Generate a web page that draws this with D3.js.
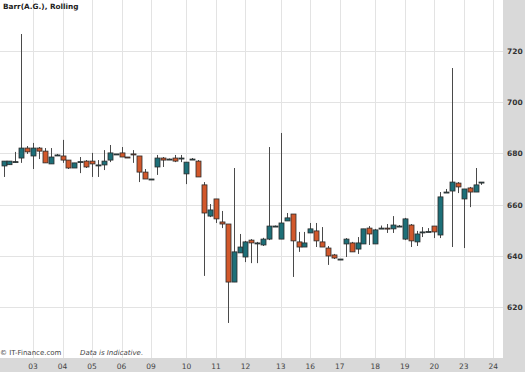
<!DOCTYPE html>
<html>
<head>
<meta charset="utf-8">
<script src="https://cdnjs.cloudflare.com/ajax/libs/d3/7.8.5/d3.min.js"></script>
<style>
  body { margin: 0; background: #fff; }
  svg { display: block; font-family: "DejaVu Sans", Verdana, sans-serif; }
</style>
</head>
<body>
<div id="chart"></div>
<script>
const title = "Barr(A.G.), Rolling";

// day labels and the candle index each one sits on
const dayLabels = ["03", "04", "05", "06", "09", "10", "11", "12", "13", "16", "17", "18", "19", "20", "23", "24"];
const dayIndex = [5, 10, 15, 20, 25, 31, 36, 41, 47, 52, 57, 63, 68, 73, 78, 83];

const yTicks = [620, 640, 660, 680, 700, 720];

const opens = [675.1, 675.6, 676.6, 678.2, 682.1, 679.0, 682.1, 680.9, 675.9, 679.2,
  679.0, 677.4, 674.3, 676.6, 677.0, 677.0, 675.5, 675.5, 677.4, 679.8,
  680.2, 678.6, 679.8, 679.0, 672.7, 670.0, 674.7, 678.2, 677.8, 678.2,
  678.2, 672.0, 677.8, 677.0, 667.7, 655.5, 662.2, 653.2, 652.4, 629.7,
  641.1, 639.5, 646.1, 645.0, 644.2, 646.5, 651.6, 646.5, 653.6, 656.3,
  645.4, 643.4, 648.9, 649.7, 645.4, 643.0, 640.3, 638.7, 644.6, 645.0,
  642.6, 644.6, 650.8, 644.6, 650.8, 650.8, 650.5, 651.6, 646.5, 652.0,
  645.4, 649.3, 649.3, 651.6, 648.1, 664.9, 665.3, 668.4, 662.2, 666.5,
  664.9, 668.8];

const closes = [677.0, 677.0, 676.8, 682.1, 680.6, 682.1, 680.9, 676.3, 678.6, 679.4,
  677.4, 674.3, 676.3, 676.8, 674.7, 675.9, 675.5, 677.0, 680.2, 679.8,
  678.6, 678.4, 679.6, 672.7, 670.0, 670.0, 678.2, 677.4, 677.8, 677.0,
  678.2, 676.6, 677.8, 670.8, 656.7, 657.9, 654.4, 652.4, 629.7, 641.5,
  643.4, 645.4, 645.0, 645.0, 646.5, 651.6, 651.6, 652.8, 654.8, 645.8,
  643.4, 645.0, 650.5, 645.8, 643.4, 639.9, 639.1, 638.7, 646.5, 641.5,
  645.0, 650.5, 648.5, 650.1, 650.8, 650.5, 652.0, 651.6, 654.4, 645.8,
  648.5, 649.3, 649.5, 649.3, 663.0, 664.9, 668.8, 666.9, 666.1, 664.9,
  667.7, 668.8];

const highs = [677.0, 677.0, 680.6, 726.7, 682.9, 684.1, 682.5, 682.1, 682.1, 679.8,
  685.3, 677.4, 676.3, 678.6, 677.4, 680.2, 677.4, 681.3, 683.3, 679.8,
  682.5, 678.6, 681.3, 679.0, 673.9, 670.0, 679.4, 678.6, 678.0, 679.4,
  679.4, 676.6, 678.2, 677.4, 668.8, 660.2, 662.2, 657.5, 652.4, 674.3,
  648.5, 645.8, 646.5, 645.4, 647.0, 682.5, 651.8, 688.0, 656.7, 656.3,
  649.3, 649.3, 652.8, 652.8, 651.2, 643.8, 640.7, 638.7, 646.9, 645.4,
  647.3, 650.5, 651.6, 650.5, 651.8, 652.4, 655.5, 652.0, 654.8, 652.4,
  649.7, 651.2, 650.8, 651.6, 664.9, 666.1, 713.4, 668.8, 666.1, 666.9,
  674.3, 668.8];

const lows = [670.8, 675.6, 676.3, 676.3, 679.8, 673.9, 677.8, 676.3, 675.9, 679.0,
  676.3, 673.9, 674.3, 672.3, 674.3, 670.8, 670.8, 673.5, 676.6, 679.8,
  678.6, 678.2, 676.3, 668.8, 670.0, 670.0, 671.6, 674.7, 677.6, 676.6,
  676.6, 668.0, 677.8, 670.8, 632.1, 655.1, 652.8, 650.8, 613.7, 629.7,
  641.1, 637.5, 637.1, 637.1, 643.8, 646.1, 651.4, 646.5, 653.6, 631.7,
  641.5, 643.4, 648.9, 643.4, 643.4, 636.4, 638.7, 638.7, 639.5, 641.5,
  640.7, 644.6, 644.2, 644.6, 650.8, 648.9, 648.9, 651.4, 646.1, 643.4,
  643.8, 647.3, 649.3, 646.9, 646.9, 664.9, 643.4, 664.5, 643.0, 659.0,
  664.9, 667.7];

const width = 525;
const height = 372;
const plotW = 503;
const plotH = 358;

const upColor = "#1d6f78";
const downColor = "#d2582b";

const candles = opens.map((o, i) => ({
  i: i, open: o, close: closes[i], high: highs[i], low: lows[i]
}));

const x = d3.scaleLinear().domain([0, 83]).range([3.5, 493.2]);
const y = d3.scaleLinear().domain([600, 740]).range([plotH, 0]);

const svg = d3
  .select("#chart")
  .append("svg")
  .attr("width", width)
  .attr("height", height)
  .attr("viewBox", [0, 0, width, height]);

// gray frame for the axes
svg.append("rect")
  .attr("x", 0).attr("y", 0)
  .attr("width", width).attr("height", height)
  .attr("fill", "#d9d9d9");

svg.append("rect")
  .attr("x", 0).attr("y", 0)
  .attr("width", plotW).attr("height", plotH)
  .attr("fill", "#fff");

svg.append("clipPath")
  .attr("id", "plot-clip")
  .append("rect")
  .attr("width", plotW)
  .attr("height", plotH);

const plot = svg.append("g").attr("clip-path", "url(#plot-clip)");

// grid
plot.append("g")
  .selectAll("line")
  .data(yTicks)
  .join("line")
  .attr("x1", 0)
  .attr("x2", plotW)
  .attr("y1", (d) => Math.round(y(d)) + 0.5)
  .attr("y2", (d) => Math.round(y(d)) + 0.5)
  .attr("stroke", "#e3e3e3");

plot.append("g")
  .selectAll("line")
  .data(dayIndex)
  .join("line")
  .attr("x1", (d) => Math.round(x(d)) + 0.5)
  .attr("x2", (d) => Math.round(x(d)) + 0.5)
  .attr("y1", 0)
  .attr("y2", plotH)
  .attr("stroke", "#e3e3e3");

// candles
const candle = plot.append("g")
  .selectAll("g")
  .data(candles)
  .join("g");

candle.append("line")
  .attr("x1", (d) => Math.round(x(d.i)) + 0.5)
  .attr("x2", (d) => Math.round(x(d.i)) + 0.5)
  .attr("y1", (d) => y(d.high))
  .attr("y2", (d) => y(d.low))
  .attr("stroke", "#4a4a4a")
  .attr("stroke-width", 1);

candle.append("rect")
  .attr("x", (d) => Math.round(x(d.i)) - 2)
  .attr("y", (d) => y(Math.max(d.open, d.close)))
  .attr("width", 5)
  .attr("height", (d) => Math.max(1, Math.abs(y(d.open) - y(d.close))))
  .attr("fill", (d) => (d.close >= d.open ? upColor : downColor))
  .attr("stroke", "#2b2b2b")
  .attr("stroke-width", 0.8);

// y axis labels on the right
svg.append("g")
  .selectAll("text")
  .data(yTicks)
  .join("text")
  .attr("x", 507)
  .attr("y", (d) => y(d) + 3)
  .attr("font-size", 7.5)
  .attr("font-weight", "bold")
  .attr("fill", "#333")
  .text((d) => d);

// day labels along the bottom
svg.append("g")
  .selectAll("text")
  .data(dayLabels)
  .join("text")
  .attr("x", (d, i) => x(dayIndex[i]))
  .attr("y", 369)
  .attr("text-anchor", "middle")
  .attr("font-size", 7.5)
  .attr("fill", "#444")
  .text((d) => d);

svg.append("text")
  .attr("x", 3)
  .attr("y", 9)
  .attr("font-size", 7.3)
  .attr("font-weight", "bold")
  .attr("fill", "#222")
  .text(title);

svg.append("text")
  .attr("x", 0)
  .attr("y", 355)
  .attr("font-size", 7)
  .attr("fill", "#444")
  .text("© IT-Finance.com");

svg.append("text")
  .attr("x", 80)
  .attr("y", 355)
  .attr("font-size", 7)
  .attr("font-style", "italic")
  .attr("fill", "#444")
  .text("Data is Indicative.");
</script>
</body>
</html>
